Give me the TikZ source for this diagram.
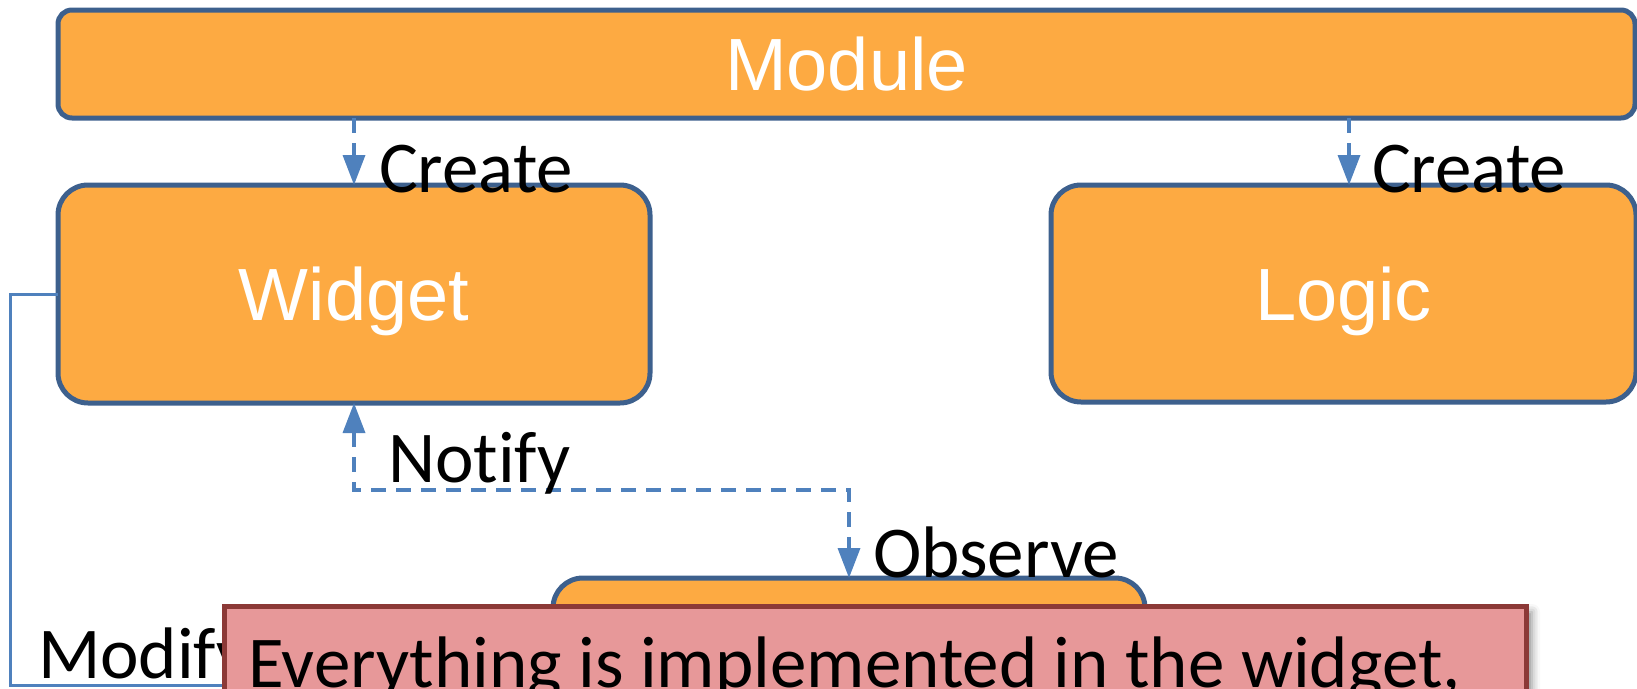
\documentclass[tikz,border=0pt]{standalone}
\usepackage{fontspec}
\setmainfont{Carlito}[Ligatures=NoCommon]
\newfontfamily\headfont{Liberation Sans}
\usetikzlibrary{arrows.meta,shadows.blur}
\definecolor{boxfill}{RGB}{253,170,66}
\definecolor{boxline}{RGB}{61,96,141}
\definecolor{flowblue}{RGB}{79,129,189}
\definecolor{notefill}{RGB}{231,152,153}
\definecolor{noteline}{RGB}{140,57,55}
\begin{document}
\begin{tikzpicture}[x=1pt,y=-1pt,
  block/.style={draw=boxline, line width=5pt, fill=boxfill, rounded corners=30pt,
    inner sep=0pt, outer sep=0pt, text=white,
    font=\headfont\fontsize{74}{80}\selectfont, text height=53pt, text depth=0pt},
  flowlabel/.style={inner sep=0pt, outer sep=0pt, anchor=base west,
    font=\fontsize{73}{80}\selectfont},
  dashflow/.style={draw=flowblue, line width=3.5pt, dash pattern=on 15pt off 10pt,
    -{Triangle[width=22pt,length=30pt]}},
  plainflow/.style={draw=flowblue, line width=3pt},
  notebox/.style={draw=noteline, line width=5pt, fill=notefill, inner sep=0pt,
    outer sep=0pt,
    blur shadow={shadow xshift=6pt, shadow yshift=-6pt, shadow blur radius=8pt, shadow opacity=45}}]

\useasboundingbox (0,0) rectangle (1637,688);
\clip (0,0) rectangle (1637,688);

% main boxes
\node[block, rounded corners=14pt, minimum width=1577pt, minimum height=108pt]
  (module) at (846.5,64) {Module};
\node[block, minimum width=592pt, minimum height=218pt] (widget) at (354,294) {Widget};
\node[block, minimum width=585pt, minimum height=217pt] (logic) at (1343.5,293.5) {Logic};
\node[block, minimum width=592pt, minimum height=214pt] (model) at (849,685) {};

% creation arrows
\draw[dashflow] (module.south -| widget.north) -- (widget.north);
\draw[dashflow] ([xshift=5.5pt]module.south -| logic.north) -- ([xshift=5.5pt]logic.north);

% notify / observe link
\coordinate (linkmid) at (600,490);
\draw[dashflow, {Triangle[width=22pt,length=30pt]}-{Triangle[width=22pt,length=30pt]}]
  (widget.south) -- (widget.south |- linkmid) -| (model.north);

% modify link
\coordinate (modcorner) at (10,685);
\draw[plainflow] (widget.west) -| (modcorner) -- (model.west);

% connector labels
\node[flowlabel] (createW) at (379,192) {Create};
\node[flowlabel] (createL) at (1372,192) {Create};
\node[flowlabel] (notify) at (388,482) {Not\kern0pt{}ify};
\node[flowlabel] (observe) at (873,577) {Observe};
\node[flowlabel] (modify) at (38,678) {Modify};

% note
\node[notebox, anchor=north west, minimum width=1302pt, minimum height=200pt]
  (note) at (224,606) {};
\node[flowlabel] (notetext) at (248,687) {Everything is implemented in the widget,};
\end{tikzpicture}
\end{document}
